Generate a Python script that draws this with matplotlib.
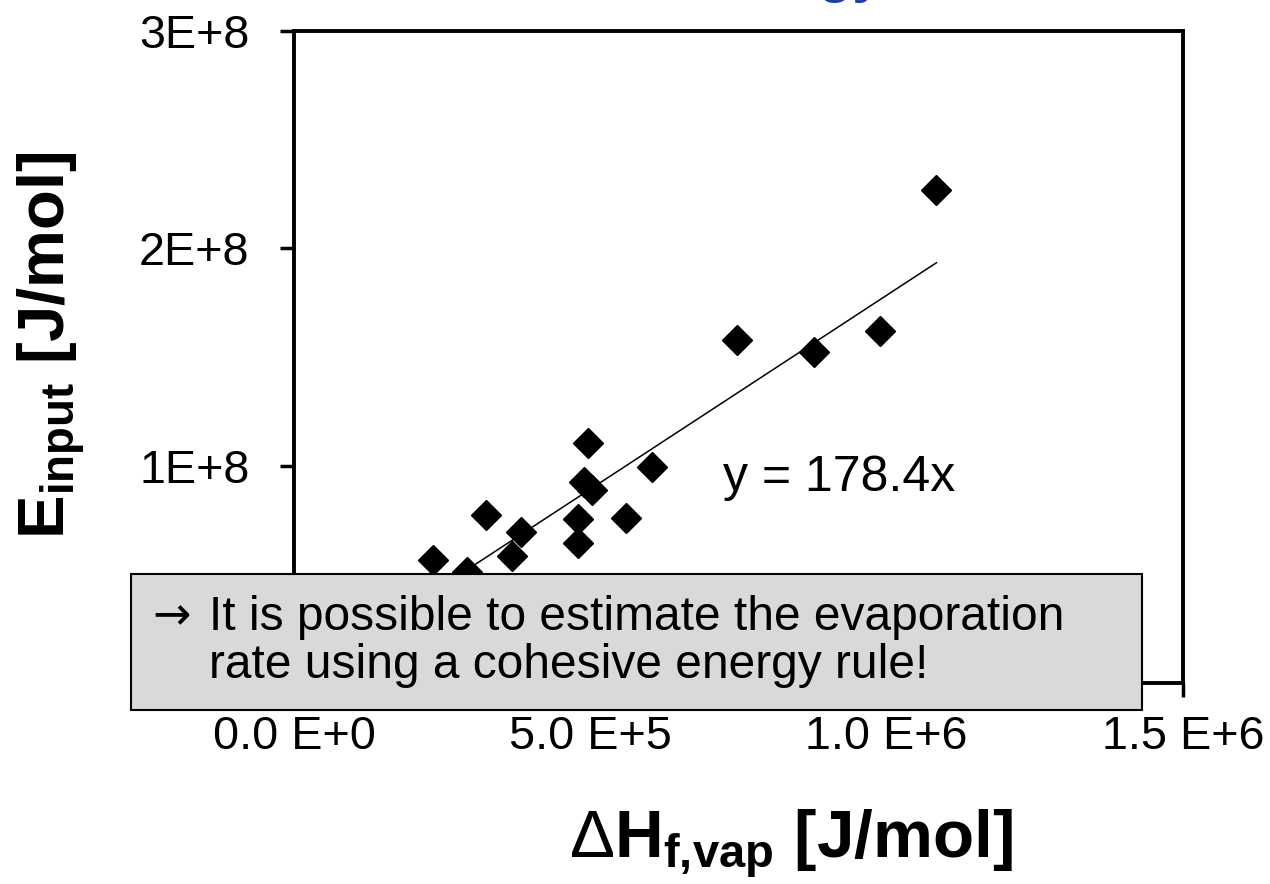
import matplotlib
matplotlib.use("Agg")
import matplotlib.pyplot as plt
from matplotlib.patches import Rectangle
from matplotlib.ticker import FixedLocator, FixedFormatter

plt.rcParams['font.family'] = ['Liberation Sans', 'DejaVu Sans']
plt.rcParams['mathtext.fontset'] = 'custom'
plt.rcParams['mathtext.rm'] = 'Liberation Sans'
plt.rcParams['mathtext.bf'] = 'Liberation Sans:bold'
plt.rcParams['mathtext.it'] = 'Liberation Sans:italic'

# Data (enthalpy of vaporization [J/mol], input energy [J/mol])
dh_vap = [1.084e6, 0.747e6, 0.877e6, 0.988e6, 0.496e6, 0.604e6, 0.489e6, 0.503e6,
          0.479e6, 0.479e6, 0.560e6, 0.324e6, 0.383e6, 0.368e6, 0.234e6, 0.292e6]
e_input = [2.267e8, 1.576e8, 1.525e8, 1.618e8, 1.106e8, 0.995e8, 0.926e8, 0.889e8,
           0.756e8, 0.645e8, 0.760e8, 0.774e8, 0.696e8, 0.585e8, 0.567e8, 0.510e8]
slope = 178.4

x_ticks = [0.0, 5.0e5, 1.0e6, 1.5e6]
x_tick_labels = ["0.0 E+0", "5.0 E+5", "1.0 E+6", "1.5 E+6"]
y_ticks = [0.0, 1e8, 2e8, 3e8]
y_tick_labels = ["0E+0", "1E+8", "2E+8", "3E+8"]

W, H = 1270, 884
fig = plt.figure(figsize=(W / 100, H / 100), dpi=100)
ax = fig.add_axes([294 / W, 1 - 683 / H, (1183 - 294) / W, (683 - 31) / H])

ax.plot(dh_vap, e_input, linestyle='none', marker='D', markersize=15.5,
        color='black', zorder=3)
xl = [min(dh_vap), max(dh_vap)]
ax.plot(xl, [slope * v for v in xl], color='black', linewidth=1.1, zorder=2)

ax.set_xlim(0, 1.5e6)
ax.set_ylim(0, 3e8)
ax.xaxis.set_major_locator(FixedLocator(x_ticks))
ax.xaxis.set_major_formatter(FixedFormatter(x_tick_labels))
ax.yaxis.set_major_locator(FixedLocator(y_ticks))
ax.yaxis.set_major_formatter(FixedFormatter(y_tick_labels))
ax.tick_params(axis='both', direction='out', length=10, width=2.5, labelsize=33.7)
ax.tick_params(axis='x', pad=13)
ax.tick_params(axis='y', pad=22)
for s in ax.spines.values():
    s.set_linewidth(2.8)

fig.text(723 / W, 1 - 478 / H, "y = 178.4x", fontsize=36, ha='left', va='center')

# axis labels
fig.text(569 / W, 1 - 858 / H, r"$\mathrm{\Delta}\mathbf{H}_{\mathbf{f{,}vap}}$ [J/mol]",
         fontsize=48.5, fontweight='bold', ha='left', va='baseline')
fig.text(52 / W, 1 - 345 / H, r"$\mathbf{E}_{\mathbf{input}}$ [J/mol]",
         fontsize=47, fontweight='bold', ha='center', va='center', rotation=90)

# partly visible title at top
fig.text(883 / W, 1 + 9 / H, "Energy", fontsize=40, fontweight='bold',
         color='#1c3fa8', ha='right', va='baseline')

# overlay box
box = Rectangle((131 / W, 1 - 710 / H), (1142 - 131) / W, (710 - 574) / H,
                transform=fig.transFigure, facecolor='#d9d9d9', edgecolor='black',
                linewidth=1.5, zorder=10)
fig.add_artist(box)
fig.text(152 / W, 1 - 617 / H, "\u2192", family='DejaVu Sans',
         fontsize=33, ha='left', va='center', zorder=11)
fig.text(209 / W, 1 - 617 / H, "It is possible to estimate the evaporation",
         fontsize=34.5, ha='left', va='center', zorder=11)
fig.text(209 / W, 1 - 665 / H, "rate using a cohesive energy rule!",
         fontsize=34.5, ha='left', va='center', zorder=11)

fig.savefig("out.png", dpi=100)
